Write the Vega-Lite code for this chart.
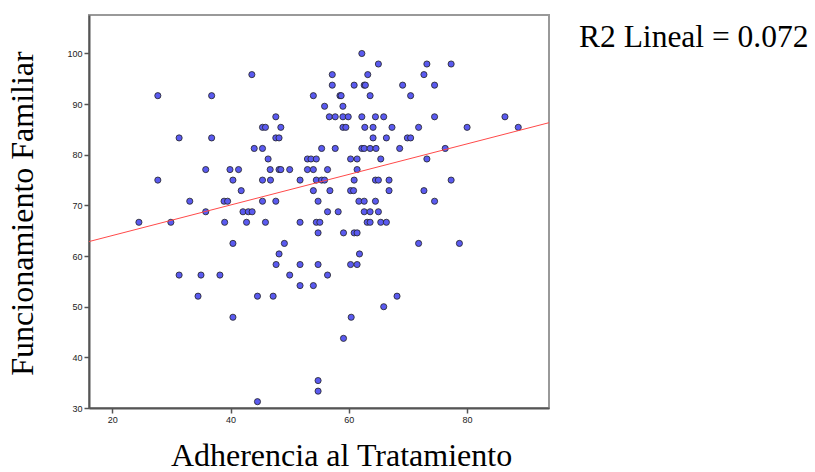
{
  "$schema": "https://vega.github.io/schema/vega-lite/v6.json",
  "width": 460,
  "height": 393,
  "autosize": {"type": "none"},
  "padding": {"left": 89, "top": 15, "right": 266, "bottom": 64},
  "background": "white",
  "title": {"text": "R2 Lineal = 0.072", "font": "Liberation Serif", "fontSize": 31.5, "fontWeight": "normal", "color": "black", "orient": "right", "anchor": "start", "angle": 0, "frame": "group", "align": "right", "baseline": "alphabetic", "offset": 28, "dy": 32},
  "config": {
    "view": {"stroke": "#999999", "strokeWidth": 2},
    "axis": {"domainColor": "#555555", "domainWidth": 2, "tickColor": "#555555", "tickWidth": 1.5, "tickSize": 5, "labelFont": "Liberation Sans", "labelFontSize": 9, "labelColor": "#222222", "labelPadding": 2, "titleFont": "Liberation Serif", "titleFontSize": 32, "titleFontWeight": "normal", "titleColor": "black", "grid": false}
  },
  "datasets": {
    "points": [
      {"a": 43.6, "f": 95.83}, {"a": 27.7, "f": 91.67}, {"a": 36.8, "f": 91.67}, {"a": 54.0, "f": 91.67},
      {"a": 47.65, "f": 87.5}, {"a": 31.3, "f": 83.33}, {"a": 36.8, "f": 83.33}, {"a": 45.4, "f": 85.42},
      {"a": 45.9, "f": 85.42}, {"a": 48.5, "f": 85.42}, {"a": 47.65, "f": 83.33}, {"a": 48.2, "f": 83.33},
      {"a": 44.0, "f": 81.25}, {"a": 45.4, "f": 81.25}, {"a": 46.35, "f": 79.17}, {"a": 53.0, "f": 79.17},
      {"a": 53.6, "f": 79.17}, {"a": 54.5, "f": 79.17},
      {"a": 35.8, "f": 77.08}, {"a": 39.9, "f": 77.08}, {"a": 41.35, "f": 77.08}, {"a": 46.7, "f": 77.08},
      {"a": 48.2, "f": 77.08}, {"a": 48.5, "f": 77.08}, {"a": 50.0, "f": 77.08}, {"a": 53.0, "f": 77.08}, {"a": 54.0, "f": 77.08},
      {"a": 27.7, "f": 75}, {"a": 40.4, "f": 75}, {"a": 45.4, "f": 75}, {"a": 46.75, "f": 75}, {"a": 51.75, "f": 75}, {"a": 54.5, "f": 75},
      {"a": 41.8, "f": 72.92}, {"a": 54.0, "f": 72.92},
      {"a": 33.1, "f": 70.83}, {"a": 38.9, "f": 70.83}, {"a": 39.5, "f": 70.83}, {"a": 45.4, "f": 70.83}, {"a": 47.65, "f": 70.83}, {"a": 54.8, "f": 70.83},
      {"a": 62.2, "f": 100},
      {"a": 65.0, "f": 97.92}, {"a": 73.2, "f": 97.92}, {"a": 77.3, "f": 97.92},
      {"a": 57.2, "f": 95.83}, {"a": 63.2, "f": 95.83}, {"a": 72.7, "f": 95.83},
      {"a": 57.2, "f": 93.75}, {"a": 60.9, "f": 93.75}, {"a": 62.6, "f": 93.75}, {"a": 62.8, "f": 93.75}, {"a": 69.1, "f": 93.75}, {"a": 74.5, "f": 93.75},
      {"a": 58.5, "f": 91.67}, {"a": 58.7, "f": 91.67}, {"a": 63.6, "f": 91.67}, {"a": 70.45, "f": 91.67},
      {"a": 55.9, "f": 89.58}, {"a": 59.0, "f": 89.58},
      {"a": 56.7, "f": 87.5}, {"a": 57.7, "f": 87.5}, {"a": 59.0, "f": 87.5}, {"a": 59.9, "f": 87.5}, {"a": 62.2, "f": 87.5}, {"a": 64.5, "f": 87.5}, {"a": 65.9, "f": 87.5}, {"a": 74.5, "f": 87.5}, {"a": 86.4, "f": 87.5},
      {"a": 59.0, "f": 85.42}, {"a": 59.5, "f": 85.42}, {"a": 62.7, "f": 85.42}, {"a": 64.1, "f": 85.42}, {"a": 67.3, "f": 85.42}, {"a": 71.8, "f": 85.42}, {"a": 80.0, "f": 85.42}, {"a": 88.65, "f": 85.42},
      {"a": 64.1, "f": 83.33}, {"a": 66.35, "f": 83.33}, {"a": 69.9, "f": 83.33}, {"a": 70.45, "f": 83.33},
      {"a": 55.4, "f": 81.25}, {"a": 57.7, "f": 81.25}, {"a": 62.2, "f": 81.25}, {"a": 62.6, "f": 81.25}, {"a": 63.6, "f": 81.25}, {"a": 64.6, "f": 81.25}, {"a": 68.6, "f": 81.25}, {"a": 76.3, "f": 81.25},
      {"a": 60.3, "f": 79.17}, {"a": 61.4, "f": 79.17}, {"a": 65.4, "f": 79.17}, {"a": 73.2, "f": 79.17},
      {"a": 56.4, "f": 77.08}, {"a": 61.4, "f": 77.08},
      {"a": 55.4, "f": 75}, {"a": 55.9, "f": 75}, {"a": 60.9, "f": 75}, {"a": 64.5, "f": 75}, {"a": 65.0, "f": 75}, {"a": 66.8, "f": 75}, {"a": 77.3, "f": 75},
      {"a": 56.8, "f": 72.92}, {"a": 60.3, "f": 72.92}, {"a": 60.8, "f": 72.92}, {"a": 66.8, "f": 72.92}, {"a": 72.7, "f": 72.92},
      {"a": 61.7, "f": 70.83}, {"a": 62.6, "f": 70.83}, {"a": 64.5, "f": 70.83}, {"a": 74.5, "f": 70.83},
      {"a": 35.8, "f": 68.75}, {"a": 42.1, "f": 68.75}, {"a": 43.0, "f": 68.75}, {"a": 43.65, "f": 68.75},
      {"a": 24.5, "f": 66.67}, {"a": 29.9, "f": 66.67}, {"a": 39.0, "f": 66.67}, {"a": 42.7, "f": 66.67}, {"a": 45.9, "f": 66.67}, {"a": 51.75, "f": 66.67}, {"a": 54.5, "f": 66.67}, {"a": 55.1, "f": 66.67},
      {"a": 54.8, "f": 64.58},
      {"a": 40.4, "f": 62.5}, {"a": 49.1, "f": 62.5},
      {"a": 48.2, "f": 60.42},
      {"a": 47.7, "f": 58.33}, {"a": 51.75, "f": 58.33}, {"a": 54.8, "f": 58.33},
      {"a": 31.3, "f": 56.25}, {"a": 35.0, "f": 56.25}, {"a": 38.2, "f": 56.25}, {"a": 50.0, "f": 56.25},
      {"a": 51.75, "f": 54.17}, {"a": 54.0, "f": 54.17},
      {"a": 34.5, "f": 52.08}, {"a": 44.55, "f": 52.08}, {"a": 47.2, "f": 52.08},
      {"a": 40.4, "f": 47.92},
      {"a": 54.8, "f": 35.42}, {"a": 54.8, "f": 33.33}, {"a": 44.55, "f": 31.25},
      {"a": 56.4, "f": 68.75}, {"a": 58.2, "f": 68.75}, {"a": 62.6, "f": 68.75}, {"a": 63.6, "f": 68.75}, {"a": 65.0, "f": 68.75},
      {"a": 63.1, "f": 66.67}, {"a": 63.6, "f": 66.67}, {"a": 65.4, "f": 66.67}, {"a": 66.35, "f": 66.67},
      {"a": 59.1, "f": 64.58}, {"a": 60.9, "f": 64.58}, {"a": 61.4, "f": 64.58},
      {"a": 71.8, "f": 62.5}, {"a": 78.7, "f": 62.5},
      {"a": 61.8, "f": 60.42},
      {"a": 60.3, "f": 58.33}, {"a": 61.4, "f": 58.33},
      {"a": 56.4, "f": 56.25},
      {"a": 68.15, "f": 52.08},
      {"a": 65.9, "f": 50},
      {"a": 60.4, "f": 47.92},
      {"a": 59.1, "f": 43.75}
    ]
  },
  "layer": [
    {
      "data": {"name": "points"},
      "mark": {"type": "point", "shape": "circle", "filled": true, "fill": "#5a5af0", "stroke": "#222222", "strokeWidth": 0.8, "size": 38, "opacity": 1, "fillOpacity": 1},
      "encoding": {
        "x": {"field": "a", "type": "quantitative", "scale": {"domain": [16.06, 93.85], "nice": false, "zero": false},
              "axis": {"values": [20, 40, 60, 80], "title": "Adherencia al Tratamiento", "titleX": 252, "titleY": 57, "titleAlign": "center", "titleBaseline": "alphabetic"}},
        "y": {"field": "f", "type": "quantitative", "scale": {"domain": [30, 107.6], "nice": false, "zero": false},
              "axis": {"values": [30, 40, 50, 60, 70, 80, 90, 100], "title": "Funcionamiento Familiar", "titleX": -57, "titleY": 198, "titleAngle": 270, "titleAlign": "center", "titleBaseline": "alphabetic"}}
      }
    },
    {
      "data": {"name": "points"},
      "transform": [{"regression": "f", "on": "a", "extent": [16.06, 93.85]}],
      "mark": {"type": "line", "color": "#ff4a4a", "strokeWidth": 1},
      "encoding": {
        "x": {"field": "a", "type": "quantitative"},
        "y": {"field": "f", "type": "quantitative"}
      }
    }
  ]
}
